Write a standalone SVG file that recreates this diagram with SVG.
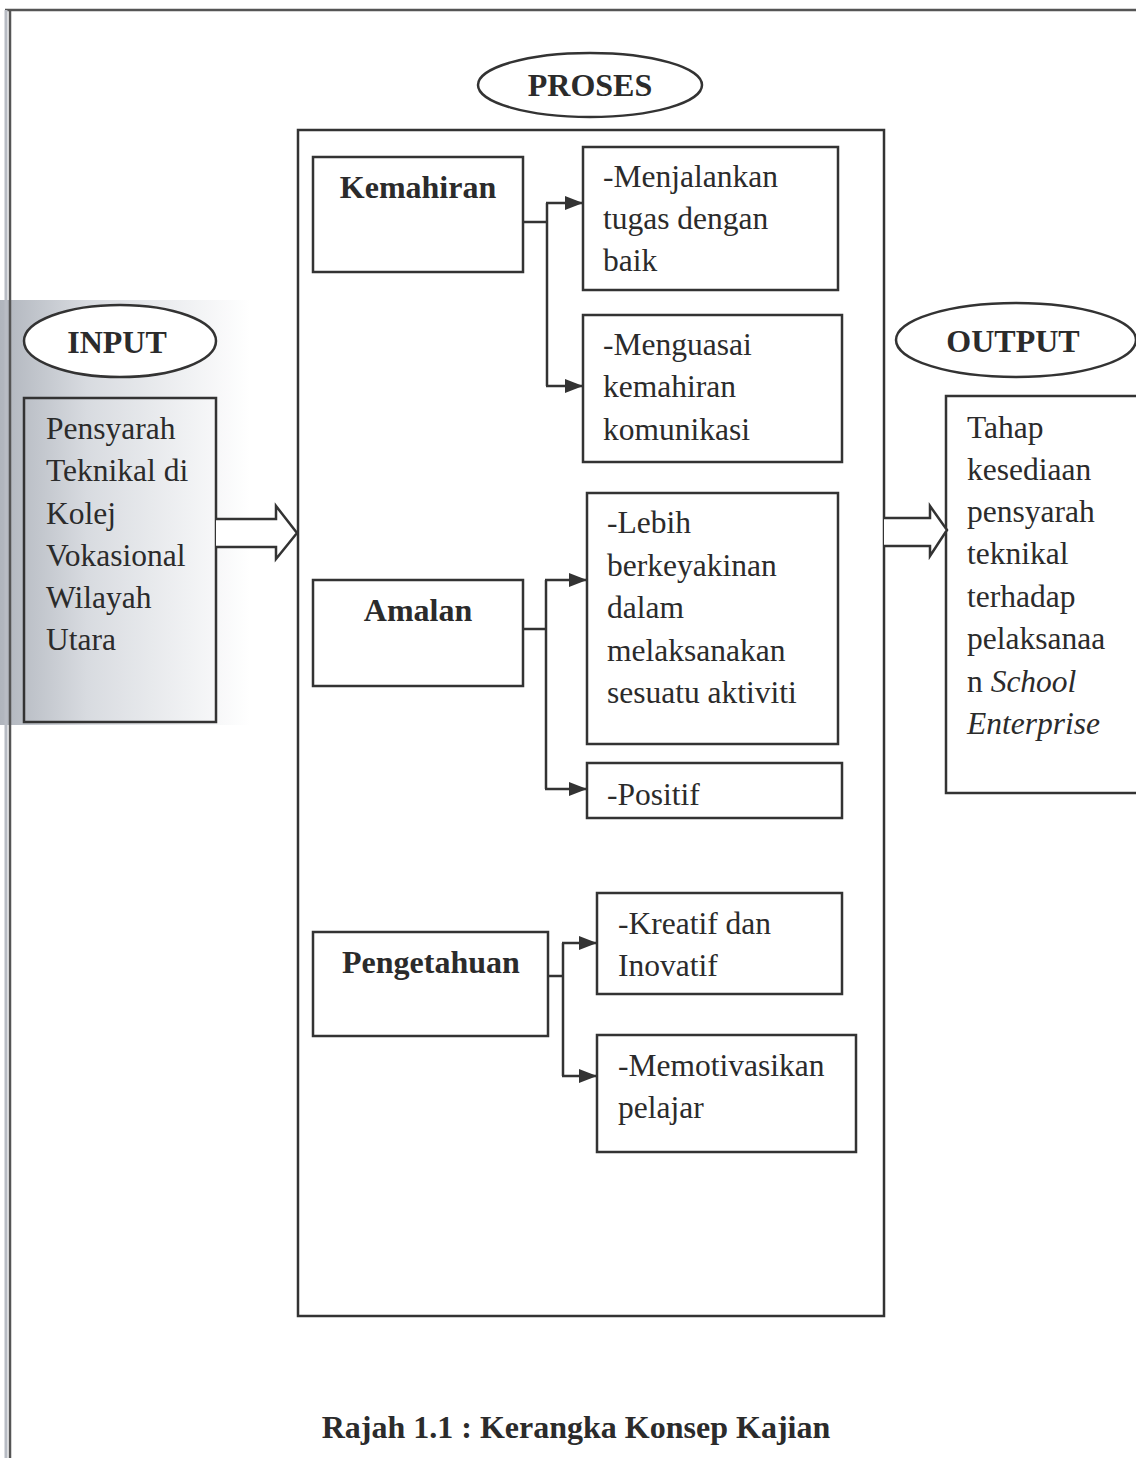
<svg xmlns="http://www.w3.org/2000/svg" width="1136" height="1458" viewBox="0 0 1136 1458">
<defs>
<linearGradient id="shade" x1="0" y1="0" x2="1" y2="0">
<stop offset="0" stop-color="#b0b5bd"/>
<stop offset="0.35" stop-color="#d8dbe0"/>
<stop offset="1" stop-color="#ffffff"/>
</linearGradient>
<marker id="ah" viewBox="0 0 18 14" refX="18" refY="7" markerWidth="18" markerHeight="14" markerUnits="userSpaceOnUse" orient="auto">
<path d="M0,0 L18,7 L0,14 Z" fill="#333"/>
</marker>
<style>
.box{fill:none;stroke:#333;stroke-width:2.5}
.ell{fill:#fff;stroke:#333;stroke-width:2.5}
.t{font-family:"Liberation Serif","Times New Roman",serif;font-size:31.5px;fill:#2b2b2b}
.b{font-family:"Liberation Serif","Times New Roman",serif;font-size:32px;font-weight:bold;fill:#2b2b2b}
.c{fill:none;stroke:#333;stroke-width:2.5}
.blk{fill:#fff;stroke:#333;stroke-width:2.5;stroke-linejoin:miter}
</style>
</defs>
<rect width="1136" height="1458" fill="#fff"/>
<rect x="0" y="300" width="250" height="425" fill="url(#shade)"/>
<line x1="5" y1="10" x2="1136" y2="10" stroke="#555" stroke-width="2.5"/>
<line x1="10" y1="10" x2="10" y2="1458" stroke="#555" stroke-width="2.5"/>
<line x1="6" y1="10" x2="6" y2="1458" stroke="#b8bcc4" stroke-width="3"/>

<g id="proses-label">
<ellipse class="ell" cx="590" cy="85" rx="112" ry="32"/>
<text class="b" x="590" y="96" text-anchor="middle">PROSES</text>
</g>
<g id="proses">
<rect class="box" x="298" y="130" width="586" height="1186"/>
</g>
<g id="input-label">
<ellipse class="ell" cx="120" cy="341" rx="96" ry="36"/>
<text class="b" x="117" y="353" text-anchor="middle">INPUT</text>
</g>
<g id="input">
<rect class="box" x="24" y="398" width="192" height="324"/>
<text class="t" x="46" y="439">Pensyarah</text>
<text class="t" x="46" y="481">Teknikal di</text>
<text class="t" x="46" y="524">Kolej</text>
<text class="t" x="46" y="566">Vokasional</text>
<text class="t" x="46" y="608">Wilayah</text>
<text class="t" x="46" y="650">Utara</text>
</g>
<g id="output-label">
<ellipse class="ell" cx="1016" cy="340" rx="120" ry="37"/>
<text class="b" x="1013" y="352" text-anchor="middle">OUTPUT</text>
</g>
<g id="output">
<rect class="box" x="946" y="396" width="200" height="397"/>
<text class="t" x="967" y="438">Tahap</text>
<text class="t" x="967" y="480">kesediaan</text>
<text class="t" x="967" y="522">pensyarah</text>
<text class="t" x="967" y="564">teknikal</text>
<text class="t" x="967" y="607">terhadap</text>
<text class="t" x="967" y="649">pelaksanaa</text>
<text class="t" x="967" y="692">n <tspan font-style="italic">School</tspan></text>
<text class="t" x="967" y="734" font-style="italic">Enterprise</text>
</g>
<g id="kemahiran">
<rect class="box" x="313" y="157" width="210" height="115"/>
<text class="b" x="418" y="198" text-anchor="middle">Kemahiran</text>
</g>
<g id="menjalankan">
<rect class="box" x="583" y="147" width="255" height="143"/>
<text class="t" x="603" y="187">-Menjalankan</text>
<text class="t" x="603" y="229">tugas dengan</text>
<text class="t" x="603" y="271">baik</text>
</g>
<g id="menguasai">
<rect class="box" x="583" y="315" width="259" height="147"/>
<text class="t" x="603" y="355">-Menguasai</text>
<text class="t" x="603" y="397">kemahiran</text>
<text class="t" x="603" y="440">komunikasi</text>
</g>
<g id="amalan">
<rect class="box" x="313" y="580" width="210" height="106"/>
<text class="b" x="418" y="621" text-anchor="middle">Amalan</text>
</g>
<g id="lebih">
<rect class="box" x="587" y="493" width="251" height="251"/>
<text class="t" x="607" y="533">-Lebih</text>
<text class="t" x="607" y="576">berkeyakinan</text>
<text class="t" x="607" y="618">dalam</text>
<text class="t" x="607" y="661">melaksanakan</text>
<text class="t" x="607" y="703">sesuatu aktiviti</text>
</g>
<g id="positif">
<rect class="box" x="587" y="763" width="255" height="55"/>
<text class="t" x="607" y="805">-Positif</text>
</g>
<g id="pengetahuan">
<rect class="box" x="313" y="932" width="235" height="104"/>
<text class="b" x="342" y="973">Pengetahuan</text>
</g>
<g id="kreatif">
<rect class="box" x="597" y="893" width="245" height="101"/>
<text class="t" x="618" y="934">-Kreatif dan</text>
<text class="t" x="618" y="976">Inovatif</text>
</g>
<g id="memotivasikan">
<rect class="box" x="597" y="1035" width="259" height="117"/>
<text class="t" x="618" y="1076">-Memotivasikan</text>
<text class="t" x="618" y="1118">pelajar</text>
</g>
<g id="connectors">
<polyline class="c" points="523,222 547,222"/>
<polyline class="c" points="547,203 547,386"/>
<line class="c" x1="546" y1="203" x2="583" y2="203" marker-end="url(#ah)"/>
<line class="c" x1="546" y1="386" x2="583" y2="386" marker-end="url(#ah)"/>
<polyline class="c" points="523,629 546,629"/>
<polyline class="c" points="546,580 546,789"/>
<line class="c" x1="545" y1="580" x2="587" y2="580" marker-end="url(#ah)"/>
<line class="c" x1="545" y1="789" x2="587" y2="789" marker-end="url(#ah)"/>
<polyline class="c" points="548,976 563,976"/>
<polyline class="c" points="563,943 563,1076"/>
<line class="c" x1="562" y1="943" x2="597" y2="943" marker-end="url(#ah)"/>
<line class="c" x1="562" y1="1076" x2="597" y2="1076" marker-end="url(#ah)"/>
<path class="blk" d="M216,519 L276,519 L276,506 L297,533 L276,559 L276,547 L216,547"/>
<path class="blk" d="M884,518 L930,518 L930,506 L947,530 L930,556 L930,546 L884,546"/>
</g>
<text class="b" x="576" y="1438" text-anchor="middle">Rajah 1.1 : Kerangka Konsep Kajian</text>
</svg>
